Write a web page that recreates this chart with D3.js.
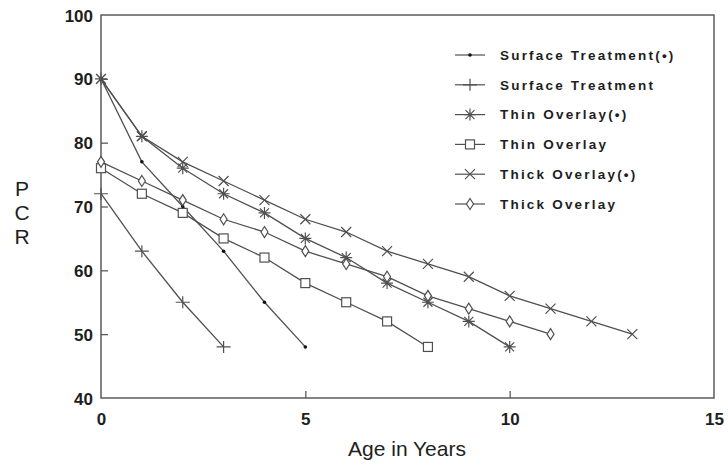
<!DOCTYPE html>
<html>
<head>
<meta charset="utf-8">
<script src="https://cdn.jsdelivr.net/npm/d3@7"></script>
<style>
  body { margin: 0; background: #fff; }
  text { font-family: "Liberation Sans", Arial, sans-serif; fill: #1e1e1e; }
</style>
</head>
<body>
<svg width="728" height="466"></svg>
<script>
const svg = d3.select("svg");

// values
const seriesNames = ["Surface Treatment(\u2022)", "Surface Treatment", "Thin Overlay(\u2022)",
                     "Thin Overlay", "Thick Overlay(\u2022)", "Thick Overlay"];
const surfaceDot   = [90, 77, 70, 63, 55, 48];
const surface      = [72, 63, 55, 48];
const thinDot      = [90, 81, 76, 72, 69, 65, 62, 58, 55, 52, 48];
const thin         = [76, 72, 69, 65, 62, 58, 55, 52, 48];
const thickDot     = [90, 81, 77, 74, 71, 68, 66, 63, 61, 59, 56, 54, 52, 50];
const thick        = [77, 74, 71, 68, 66, 63, 61, 59, 56, 54, 52, 50];
const xTicks = [0, 5, 10, 15];
const yTicks = [40, 50, 60, 70, 80, 90, 100];

const allSeries = [surfaceDot, surface, thinDot, thin, thickDot, thick];
const markers = ["dot", "plus", "star", "square", "cross", "diamond"];

const x = d3.scaleLinear().domain([0, 15]).range([101, 714]);
const y = d3.scaleLinear().domain([40, 100]).range([398, 15]);

const ink = "#505050";

// frame
svg.append("rect")
    .attr("x", x(0)).attr("y", y(100))
    .attr("width", x(15) - x(0)).attr("height", y(40) - y(100))
    .attr("fill", "none").attr("stroke", ink).attr("stroke-width", 1.4);

// axes
const yAxis = svg.append("g")
    .attr("transform", `translate(${x(0)},0)`)
    .call(d3.axisLeft(y).tickValues(yTicks).tickSize(-7).tickPadding(12));
const xAxis = svg.append("g")
    .attr("transform", `translate(0,${y(40)})`)
    .call(d3.axisBottom(x).tickValues(xTicks).tickSize(-7).tickPadding(12));

[xAxis, yAxis].forEach(a => {
    a.select(".domain").remove();
    a.selectAll("line").attr("stroke", ink).attr("stroke-width", 1.2);
    a.selectAll("text")
        .style("font-size", "17px")
        .style("font-weight", "bold")
        .attr("fill", "#1e1e1e");
});
yAxis.selectAll("text").attr("dx", 4).attr("dy", "0.36em");
xAxis.selectAll("text").attr("dy", "0.9em");
xAxis.selectAll(".tick").filter(d => d === 0 || d === 15).select("line").remove();
yAxis.selectAll(".tick").filter(d => d === 40 || d === 100).select("line").remove();

// axis titles
svg.append("text")
    .attr("x", 407).attr("y", 456)
    .attr("text-anchor", "middle")
    .style("font-size", "21px")
    .text("Age in Years");

// stacked letters for the y title
["P", "C", "R"].forEach((c, i) => {
    svg.append("text")
        .attr("x", 22).attr("y", 196 + i * 24)
        .attr("text-anchor", "middle")
        .style("font-size", "21px")
        .text(c);
});

// marker drawing
function drawMarker(g, type, cx, cy) {
    const s = g.append("g").attr("transform", `translate(${cx},${cy})`)
        .attr("stroke", ink).attr("stroke-width", 1.2).attr("fill", "none");
    if (type === "dot") {
        s.append("circle").attr("r", 1.8).attr("fill", "#111").attr("stroke", "none");
    } else if (type === "plus") {
        s.append("path").attr("d", "M-7,0H7M0,-6V6");
    } else if (type === "star") {
        s.append("path").attr("d", "M-6,0H6M0,-6V6M-4.5,-4.5L4.5,4.5M-4.5,4.5L4.5,-4.5");
    } else if (type === "square") {
        s.append("rect").attr("x", -4.5).attr("y", -4.5).attr("width", 9).attr("height", 9).attr("fill", "#fff");
    } else if (type === "cross") {
        s.append("path").attr("d", "M-5,-5L5,5M-5,5L5,-5");
    } else if (type === "diamond") {
        s.append("path").attr("d", "M0,-5.5L3.5,0L0,5.5L-3.5,0Z").attr("fill", "#fff");
    }
}

const line = d3.line().x((d, i) => x(i)).y(d => y(d));

allSeries.forEach((vals, k) => {
    const g = svg.append("g");
    g.append("path")
        .attr("d", line(vals))
        .attr("fill", "none")
        .attr("stroke", ink)
        .attr("stroke-width", 1.3);
    vals.forEach((v, i) => drawMarker(g, markers[k], x(i), y(v)));
});

// legend
const legend = svg.append("g").attr("transform", "translate(455,55)");
seriesNames.forEach((name, k) => {
    const row = legend.append("g").attr("transform", `translate(0,${k * 29.8})`);
    row.append("line").attr("x1", 0).attr("x2", 30)
        .attr("stroke", ink).attr("stroke-width", 1.2);
    drawMarker(row, markers[k], 15, 0);
    row.append("text")
        .attr("x", 45).attr("y", 0).attr("dy", "0.36em")
        .style("font-size", "13.5px")
        .style("font-weight", "bold")
        .style("letter-spacing", "2.2px")
        .text(name);
});
</script>
</body>
</html>
